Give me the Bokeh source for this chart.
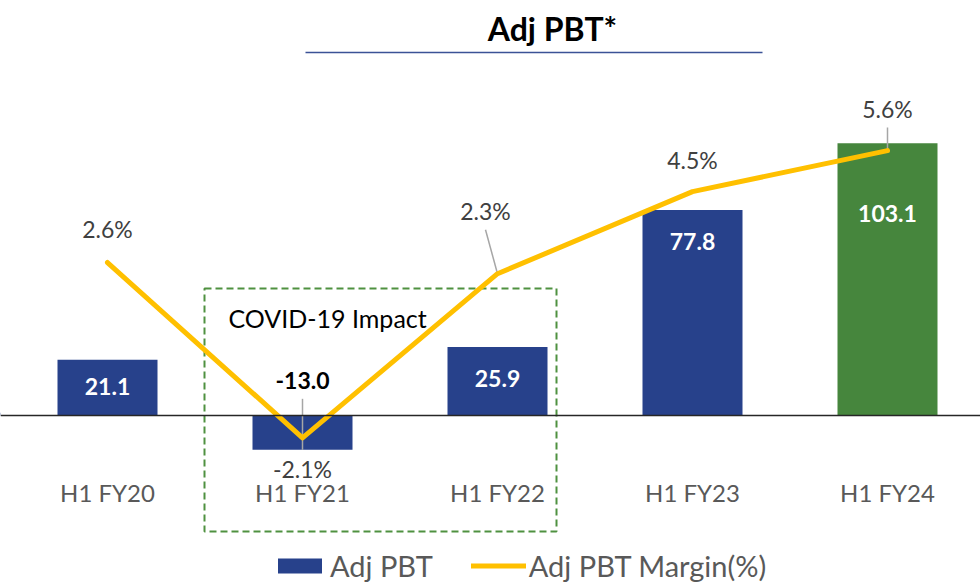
from bokeh.plotting import figure
from bokeh.models import Range1d, Span, Legend, LegendItem, ColumnDataSource
from bokeh.core.properties import value
from bokeh.embed import file_html
from bokeh.resources import INLINE

# ---- data ----
categories = ["H1 FY20", "H1 FY21", "H1 FY22", "H1 FY23", "H1 FY24"]
adj_pbt = [21.1, -13.0, 25.9, 77.8, 103.1]
adj_pbt_margin = [2.6, -2.1, 2.3, 4.5, 5.6]
bar_labels = ["21.1", "-13.0", "25.9", "77.8", "103.1"]
margin_labels = ["2.6%", "-2.1%", "2.3%", "4.5%", "5.6%"]

# ---- styles / layout ----
W, H = 980, 582
FONT = "Lato"
BLUE = "#27418B"
GREEN = "#46863D"
YELLOW = "#FFC000"
bar_colors = [BLUE, BLUE, BLUE, BLUE, GREEN]
bar_label_colors = ["white", "black", "white", "white", "white"]
bar_label_dy = [27, -69, 31, 31, 70]          # px from bar value end
pct_label_dx = [0, 0, -12, 0, 0]
pct_label_dy = [-34, 31, -63, -32, -42]        # px from point

X0, DX = 107.0, 195.0       # px position of first category, spacing
Y0, KY = 415.0, 2.64        # px of zero, px per unit (primary)
P0, KP = 359.0, 37.3        # px of zero, px per % (secondary)


def xd(px):
    return (px - X0) / DX


def yd(py):
    return (Y0 - py) / KY


p = figure(width=W, height=H, output_backend="svg", toolbar_location=None,
           x_range=Range1d(xd(0), xd(W)), y_range=Range1d(yd(H), yd(0)),
           x_axis_location=None, y_axis_location=None,
           min_border=0, outline_line_color=None, background_fill_color="white")
p.xgrid.visible = False
p.ygrid.visible = False
p.extra_y_ranges = {"pct": Range1d(-(H - P0) / KP, P0 / KP)}

idx = list(range(len(categories)))
src = ColumnDataSource(dict(x=idx, adj=adj_pbt, color=bar_colors, lab=bar_labels,
                            labc=bar_label_colors, dy=bar_label_dy,
                            m=adj_pbt_margin, mlab=margin_labels,
                            mdx=pct_label_dx, mdy=pct_label_dy, cat=categories,
                            zero=[0] * len(idx)))

# bars
p.vbar(x="x", top="adj", width=100 / DX, fill_color="color", line_color=None, source=src)

# baseline
p.add_layout(Span(location=0, dimension="width", line_color="#262626", line_width=1.5))

# COVID box
p.quad(left=xd(204), right=xd(556), top=yd(288), bottom=yd(531), fill_color=None,
       line_color="#4F9140", line_width=2, line_dash="7 4")
p.text(x=[xd(228)], y=[yd(317)], text=["COVID-19 Impact"], text_font=value(FONT),
       text_font_size="25px", text_color="black", text_align="left", text_baseline="middle")

# leader lines
i21 = 1
p.segment(x0=[idx[i21]], x1=[idx[i21]], y0=[adj_pbt[i21]], y1=[adj_pbt[i21] + 51 / KY],
          line_color="#A6A6A6", line_width=1.5)
lead = [2, 4]
lead_dx = [-12, 0]
lead_dy = [-44, -23]
p.segment(x0=[idx[i] for i in lead], y0=[adj_pbt_margin[i] for i in lead],
          x1=[idx[i] + d / DX for i, d in zip(lead, lead_dx)],
          y1=[adj_pbt_margin[i] - d / KP for i, d in zip(lead, lead_dy)],
          line_color="#A6A6A6", line_width=1.5, y_range_name="pct")

# margin line
p.line(x="x", y="m", source=src, line_color=YELLOW, line_width=5,
       line_join="round", line_cap="round", y_range_name="pct")

# bar labels
p.text(x="x", y="adj", text="lab", y_offset="dy", source=src, text_color="labc",
       text_font=value(FONT), text_font_size="23px", text_font_style="bold",
       text_align="center", text_baseline="middle")

# margin labels
p.text(x="x", y="m", text="mlab", x_offset="mdx", y_offset="mdy", source=src,
       text_color="#404040", text_font=value(FONT), text_font_size="23px",
       text_align="center", text_baseline="middle", y_range_name="pct")

# category labels
p.text(x="x", y="zero", text="cat", y_offset=77, source=src, text_color="#595959",
       text_font=value(FONT), text_font_size="24px", text_align="center",
       text_baseline="middle")

# title
p.text(x=[xd(552)], y=[yd(28)], text=["Adj PBT*"], text_font=value(FONT),
       text_font_size="32px", text_font_style="bold", text_color="black",
       text_align="center", text_baseline="middle")
p.segment(x0=[xd(305)], x1=[xd(762)], y0=[yd(52)], y1=[yd(52)],
          line_color="#3B5296", line_width=1.5)

# legend (proxy renderers placed outside the visible range)
off = [xd(-500)]
leg_bar = p.vbar(x=off, top=[1], width=0.5, fill_color=BLUE, line_color=None)
leg_line = p.line(x=off * 2, y=[0, 1], line_color=YELLOW, line_width=5, line_cap="round")
legend = Legend(items=[LegendItem(label="Adj PBT", renderers=[leg_bar]),
                       LegendItem(label="Adj PBT Margin(%)", renderers=[leg_line])],
                orientation="horizontal", location=(272, -1), glyph_width=55,
                glyph_height=19, label_standoff=3, spacing=38, padding=0, margin=0,
                border_line_color=None, background_fill_alpha=0,
                label_text_font=FONT, label_text_font_size="29px",
                label_text_color="#595959")
p.add_layout(legend)

open("out.html", "w").write(file_html(p, INLINE))
